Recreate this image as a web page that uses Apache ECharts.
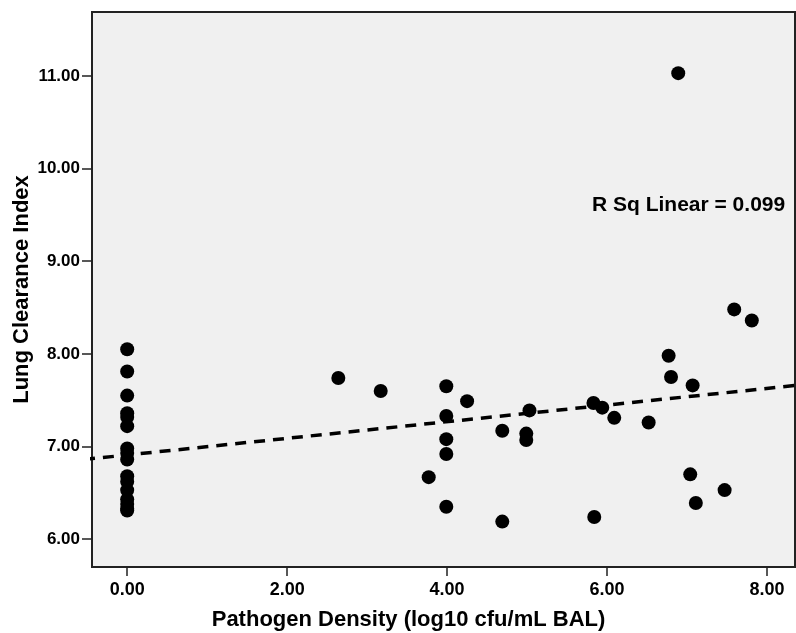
<!DOCTYPE html>
<html>
<head>
<meta charset="utf-8">
<script src="https://cdn.jsdelivr.net/npm/echarts@6/dist/echarts.min.js"></script>
<style>
html,body{margin:0;padding:0;background:#fff;}
#chart{width:796px;height:633px;}
</style>
</head>
<body>
<div id="chart"></div>
<script>
// Pathogen density (x) and lung clearance index (y)
const pathogenDensity = [
  0,0,0,0,0,0,0,0,0,0,0,0,0,0,0,0,
  2.64,3.17,3.77,3.99,3.99,3.99,3.99,3.99,4.25,4.69,4.69,4.99,4.99,5.03,
  5.83,5.84,5.94,6.09,6.52,6.77,6.80,6.89,7.04,7.07,7.11,7.47,7.59,7.81
];
const lungClearance = [
  8.05,7.81,7.55,7.36,7.32,7.22,6.98,6.93,6.86,6.68,6.62,6.53,6.43,6.38,6.33,6.31,
  7.74,7.60,6.67,7.65,7.33,7.08,6.92,6.35,7.49,7.17,6.19,7.14,7.07,7.39,
  7.47,6.24,7.42,7.31,7.26,7.98,7.75,11.03,6.70,7.66,6.39,6.53,8.48,8.36
];
const xTicks = [0, 2, 4, 6, 8];
const yTicks = [6, 7, 8, 9, 10, 11];
const xRange = [-0.44, 8.35];
const yRange = [5.70, 11.69];
const fitText = 'R Sq Linear = 0.099';
const xTitle = 'Pathogen Density (log10 cfu/mL BAL)';
const yTitle = 'Lung Clearance Index';

// OLS fit
const n = pathogenDensity.length;
const mx = pathogenDensity.reduce((a,b)=>a+b,0)/n;
const my = lungClearance.reduce((a,b)=>a+b,0)/n;
let sxy=0, sxx=0;
for (let i=0;i<n;i++){ sxy+=(pathogenDensity[i]-mx)*(lungClearance[i]-my); sxx+=(pathogenDensity[i]-mx)**2; }
const slope = sxy/sxx, intercept = my - slope*mx;
const fitLine = [[xRange[0]-0.1, intercept+slope*(xRange[0]-0.1)], [xRange[1]+0.1, intercept+slope*(xRange[1]+0.1)]];

const points = pathogenDensity.map((x,i)=>[x, lungClearance[i]]);
const FONT = '"Liberation Sans", Arial, sans-serif';

const chart = echarts.init(document.getElementById('chart'), null, {renderer:'canvas'});
chart.setOption({
  animation:false,
  backgroundColor:'#ffffff',
  grid:{left:92, top:12, right:1, bottom:66, outerBoundsMode:'none', containLabel:false,
        show:true, backgroundColor:'#f0f0f0', borderColor:'#222', borderWidth:2},
  xAxis:{
    type:'value', min:xRange[0], max:xRange[1],
    name:xTitle, nameLocation:'middle', nameGap:42, nameMoveOverlap:false,
    nameTextStyle:{fontFamily:FONT, fontWeight:'bold', fontSize:22, color:'#000', padding:[0,70,0,0]},
    axisLine:{show:true, onZero:false, lineStyle:{color:'#222', width:2}},
    axisTick:{show:true, length:9, lineStyle:{color:'#222', width:1.5}, customValues:xTicks},
    axisLabel:{customValues:xTicks, formatter:v=>v.toFixed(2), fontFamily:FONT, fontWeight:'bold', fontSize:18, color:'#000', margin:14},
    splitLine:{show:false}
  },
  yAxis:{
    type:'value', min:yRange[0], max:yRange[1],
    name:yTitle, nameLocation:'middle', nameGap:59, nameMoveOverlap:false,
    nameTextStyle:{fontFamily:FONT, fontWeight:'bold', fontSize:22, color:'#000'},
    axisLine:{show:true, onZero:false, lineStyle:{color:'#222', width:2}},
    axisTick:{show:true, length:10, lineStyle:{color:'#222', width:1.5}, customValues:yTicks},
    axisLabel:{customValues:yTicks, formatter:v=>v.toFixed(2), fontFamily:FONT, fontWeight:'bold', fontSize:17, color:'#000', margin:12},
    splitLine:{show:false}
  },
  graphic:[{
    type:'text', left:592, top:195,
    style:{text:fitText, fontFamily:FONT, fontWeight:'bold', fontSize:21, fill:'#000'}
  }],
  series:[
    {type:'scatter', data:points, symbol:'circle', symbolSize:14, itemStyle:{color:'#000', opacity:1}, z:3},
    {type:'line', data:fitLine, showSymbol:false, symbol:'none', clip:true,
     lineStyle:{color:'#000', width:3.5, type:[11,8]}, z:4}
  ]
});
</script>
</body>
</html>
